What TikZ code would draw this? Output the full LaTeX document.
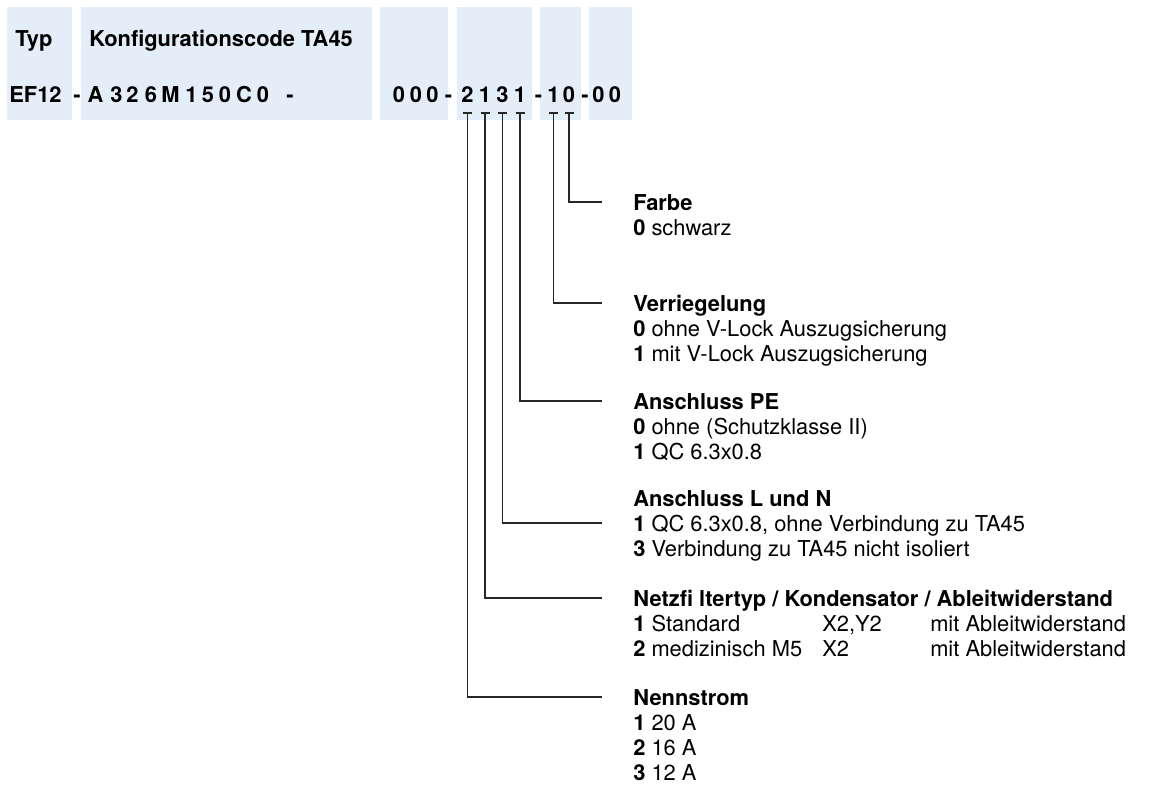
\documentclass[tikz,border=0pt]{standalone}
\usepackage{fontspec}
\setmainfont{TeX Gyre Heros}
\usetikzlibrary{calc}
\definecolor{codeblue}{RGB}{228,238,248}
\tikzset{
	lead/.style={line width=0.9pt, color=black!85},
	head/.style={font=\fontsize{16.4}{18.75}\selectfont\bfseries, inner sep=0pt, anchor=base west},
	item/.style={font=\fontsize{16.4}{18.75}\selectfont, inner sep=0pt, anchor=base west},
	codechar/.style={font=\fontsize{16.4}{18.75}\selectfont\bfseries, inner sep=0pt, anchor=base},
}
\newcommand{\opt}[2]{\textbf{#1} #2}

\begin{document}
\begin{tikzpicture}[x=0.75pt, y=-0.75pt]
		%%%%% START %%%%%
		\useasboundingbox (0,0) rectangle (1160,785);
		
		% code fields
		\fill[codeblue] (7, 7) rectangle (72, 120);
		\fill[codeblue] (81, 7) rectangle (372, 120);
		\fill[codeblue] (380, 7) rectangle (448, 120);
		\fill[codeblue] (457, 7) rectangle (532, 120);
		\fill[codeblue] (540, 7) rectangle (581, 120);
		\fill[codeblue] (589, 7) rectangle (632, 120);
		
		\node[head] (typ) at (15, 46) {Typ};
		\node[head] (konf) at (89, 46) {Konfigurationscode TA45};
		
		\foreach \x/\c [count=\i] in {35.5/EF12, 77/-, 95.5/A, 116.5/3, 132.5/2, 151/6, 170.5/M, 191.5/1, 208/5, 225/0, 244/C, 263/0, 290/-, 399/0, 416/0, 432.5/0, 448.5/-, 467.5/2, 485/1, 502.5/3, 520/1, 538.5/-, 553.5/1, 569/0, 585/-, 598.5/0, 615/0}
			\node[codechar] (c\i) at (\x, 102) {\c};
		
		% ends of the leads
		\coordinate (tick) at (0, 113);
		\coordinate (e-farbe) at (602, 202);
		\coordinate (e-verr) at (602, 303);
		\coordinate (e-pe) at (602, 401);
		\coordinate (e-lun) at (602, 523);
		\coordinate (e-netz) at (602, 598);
		\coordinate (e-nenn) at (602, 697);
		
		% Farbe
		\node[head] (farbe) at ($(e-farbe)+(31, 8)$) {Farbe};
		\node[item] (farbe0) at ($(farbe.base west)+(0, 25)$) {\opt{0}{schwarz}};
		
		% Verriegelung
		\node[head] (verr) at ($(e-verr)+(31, 8)$) {Verriegelung};
		\node[item] (verr0) at ($(verr.base west)+(0, 25)$) {\opt{0}{ohne V-Lock Auszugsicherung}};
		\node[item] (verr1) at ($(verr.base west)+(0, 50)$) {\opt{1}{mit V-Lock Auszugsicherung}};
		
		% Anschluss PE
		\node[head] (pe) at ($(e-pe)+(31, 8)$) {Anschluss PE};
		\node[item] (pe0) at ($(pe.base west)+(0, 25)$) {\opt{0}{ohne (Schutzklasse II)}};
		\node[item] (pe1) at ($(pe.base west)+(0, 50)$) {\opt{1}{QC 6.3x0.8}};
		
		% Anschluss L und N
		\node[head] (lun) at ($(e-lun)+(31, -17)$) {Anschluss L und N};
		\node[item] (lun1) at ($(lun.base west)+(0, 25)$) {\opt{1}{QC 6.3x0.8, ohne Verbindung zu TA45}};
		\node[item] (lun3) at ($(lun.base west)+(0, 50)$) {\opt{3}{Verbindung zu TA45 nicht isoliert}};
		
		% Netzfilter
		\node[head] (netz) at ($(e-netz)+(31, 8)$) {Netzfi ltertyp / Kondensator / Ableitwiderstand};
		\node[item] (netz1a) at ($(netz.base west)+(0, 25)$) {\opt{1}{Standard}};
		\node[item] (netz1b) at ($(netz.base west)+(189, 25)$) {X2,Y2};
		\node[item] (netz1c) at ($(netz.base west)+(297, 25)$) {mit Ableitwiderstand};
		\node[item] (netz2a) at ($(netz.base west)+(0, 50)$) {\opt{2}{medizinisch M5}};
		\node[item] (netz2b) at ($(netz.base west)+(189, 50)$) {X2};
		\node[item] (netz2c) at ($(netz.base west)+(297, 50)$) {mit Ableitwiderstand};
		
		% Nennstrom
		\node[head] (nenn) at ($(e-nenn)+(31, 8)$) {Nennstrom};
		\node[item] (nenn1) at ($(nenn.base west)+(0, 25)$) {\opt{1}{20 A}};
		\node[item] (nenn2) at ($(nenn.base west)+(0, 50)$) {\opt{2}{16 A}};
		\node[item] (nenn3) at ($(nenn.base west)+(0, 75)$) {\opt{3}{12 A}};
		
		% leads
		\foreach \i/\e in {18/nenn, 19/netz, 20/lun, 21/pe, 23/verr, 24/farbe}{
			\draw[lead] ($(c\i |- tick)+(-4.5, 0)$) -- ++(9, 0);
			\draw[lead] (c\i |- tick) -- (c\i |- e-\e) -- (e-\e);
		}
		
		%%%%% END %%%%%
\end{tikzpicture}
\end{document}
